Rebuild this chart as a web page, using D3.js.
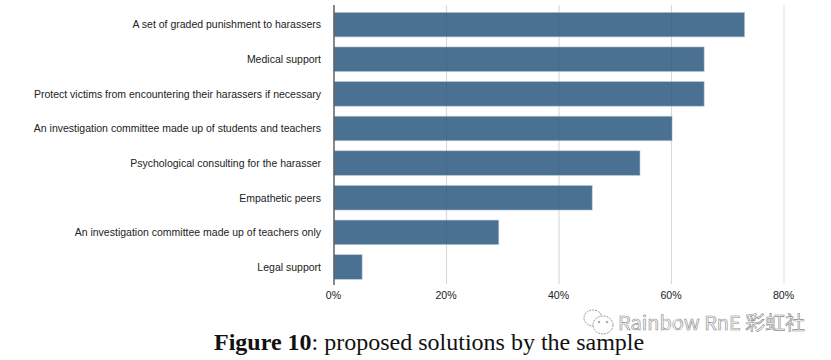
<!DOCTYPE html>
<html><head><meta charset="utf-8">
<script src="https://cdn.jsdelivr.net/npm/d3@7/dist/d3.min.js"></script>
<style>html,body{margin:0;padding:0;background:#fff;overflow:hidden}svg{display:block}</style>
</head><body><div id="chart"></div>
<script>
const categories = ["A set of graded punishment to harassers","Medical support","Protect victims from encountering their harassers if necessary","An investigation committee made up of students and teachers","Psychological consulting for the harasser","Empathetic peers","An investigation committee made up of teachers only","Legal support"];
const values = [73, 65.8, 65.8, 60.1, 54.4, 45.9, 29.3, 5];
const ticks = [0, 20, 40, 60, 80];
const captionBold = "Figure 10";
const captionRest = ": proposed solutions by the sample";
const watermark = "Rainbow RnE 彩虹社";

const svg = d3.select("#chart").append("svg").attr("width",831).attr("height",360);
const x = d3.scaleLinear().domain([0,80]).range([334,784]);
const y = d3.scaleBand().domain(categories).range([7.3,284.3]).paddingInner(0.29).paddingOuter(0.145);

const sans = "'Liberation Sans',Arial,sans-serif";
// grid
svg.append("g").selectAll("line").data(ticks.slice(1)).join("line")
  .attr("x1",d=>x(d)).attr("x2",d=>x(d)).attr("y1",5).attr("y2",284)
  .attr("stroke","#e4e4e4").attr("stroke-width",1.2);
// bars
svg.append("g").selectAll("rect").data(categories).join("rect")
  .attr("x",x(0)).attr("y",d=>y(d)).attr("height",y.bandwidth())
  .attr("width",(d,i)=>x(values[i])-x(0))
  .attr("fill","#4a7092").attr("stroke","#b9c8d6").attr("stroke-width",0.6);
// gridlines faintly through bars
svg.append("g").selectAll("line").data(ticks.slice(1,4)).join("line")
  .attr("x1",d=>x(d)).attr("x2",d=>x(d)).attr("y1",5).attr("y2",284)
  .attr("stroke","#000").attr("stroke-opacity",0.05).attr("stroke-width",1);
// axis
const yAxis = d3.axisLeft(y).tickSize(0).tickPadding(13);
const gy = svg.append("g").attr("transform",`translate(${x(0)},0.4)`).call(yAxis);
gy.select(".domain").remove();
gy.selectAll("text").attr("font-family",sans).attr("font-size",10.5).attr("fill","#222");
svg.append("line").attr("x1",x(0)).attr("x2",x(0)).attr("y1",5).attr("y2",285)
  .attr("stroke","#555").attr("stroke-width",1.4);
const xAxis = d3.axisBottom(x).tickValues(ticks).tickFormat(d=>d+"%").tickSize(0).tickPadding(7);
const gx = svg.append("g").attr("transform","translate(-1,284)").call(xAxis);
gx.select(".domain").remove();
gx.selectAll("text").attr("font-family",sans).attr("font-size",10.6).attr("fill","#222");
// caption
const cap = svg.append("text").attr("x",214).attr("y",350).attr("font-family","'Liberation Serif','Times New Roman',serif").attr("font-size",24).attr("fill","#111");
cap.append("tspan").attr("font-weight","bold").text(captionBold);
cap.append("tspan").text(captionRest);
// watermark
const wm = svg.append("g");
wm.append("text").attr("x",618).attr("y",330).attr("font-family","'Noto Sans CJK SC','Liberation Sans',sans-serif").attr("font-size",19)
  .attr("fill","#fff").attr("stroke","#8a8a8a").attr("stroke-width",0.6).attr("textLength",187).attr("lengthAdjust","spacingAndGlyphs").text(watermark);
const ic = wm.append("g").attr("fill","#fff").attr("stroke","#8a8a8a").attr("stroke-width",0.9);
ic.append("ellipse").attr("cx",593).attr("cy",318).attr("rx",9).attr("ry",8).attr("stroke-dasharray","2 1");
ic.append("ellipse").attr("cx",603).attr("cy",325).attr("rx",10).attr("ry",9).attr("stroke-dasharray","2 1");
ic.append("circle").attr("cx",599).attr("cy",322).attr("r",0.8);
ic.append("circle").attr("cx",607).attr("cy",322).attr("r",0.8);
</script></body></html>
